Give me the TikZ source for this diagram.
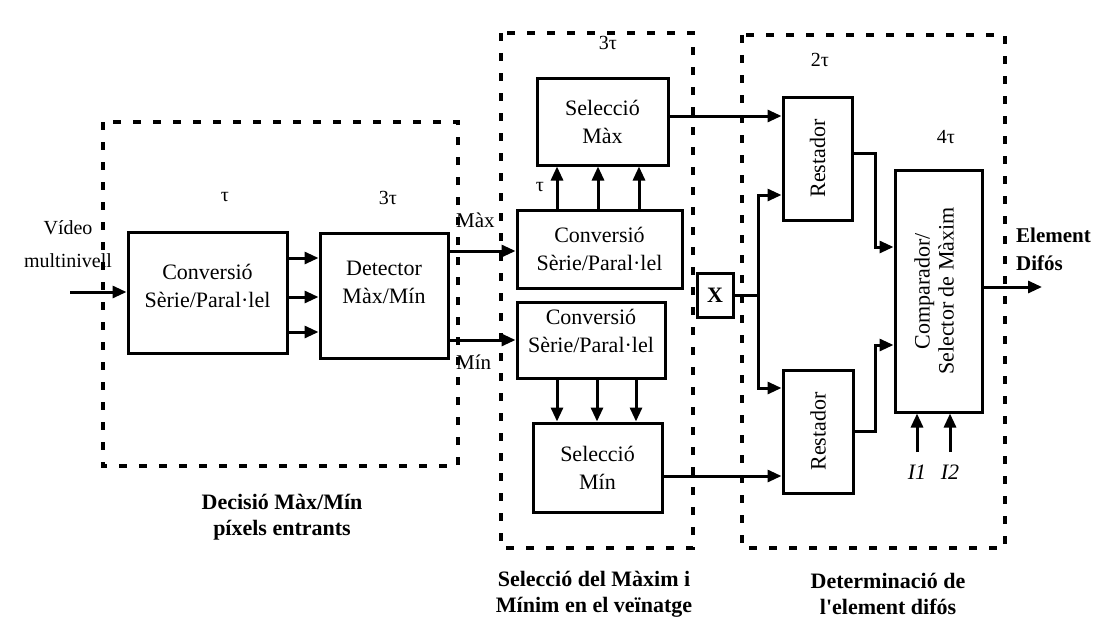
\documentclass[tikz,border=0pt]{standalone}
\usepackage{fontspec}
\setmainfont{Liberation Serif}
\usetikzlibrary{arrows.meta}
% invisible depth below the last line, lifting a node's text a little
\newcommand\liftText[1]{\rule[-#1]{0pt}{0pt}}
\begin{document}
\begin{tikzpicture}[x=1pt,y=-1pt,
  blk/.style={draw, line width=3pt, inner sep=0pt, align=center, font=\fontsize{22}{28}\selectfont},
  grp/.style={line width=4pt, dash pattern=on 8pt off 12pt},
  wire/.style={line width=3pt},
  arr/.style={wire, -{Triangle[length=14pt,width=12pt]}},
  lbl/.style={inner sep=0pt, font=\fontsize{22}{26}\selectfont},
  capt/.style={inner sep=0pt, align=center, font=\fontsize{22}{26}\selectfont\bfseries},
  tau/.style={inner sep=0pt, font=\fontsize{20}{24}\selectfont}]
\useasboundingbox (0,0) rectangle (1099,626);

% dashed group frames
\draw[grp] (103,122) rectangle (458,466);
\draw[grp] (501,33) rectangle (693,548);
\draw[grp] (742,35) rectangle (1005,548);

% blocks
\node[blk, minimum width=159pt, minimum height=121pt] (conv1) at (207.5,292.5) {Conversió\\Sèrie/Paral·lel\liftText{14pt}};
\node[blk, minimum width=128pt, minimum height=125pt] (det) at (384,295.5) {Detector\\Màx/Mín\liftText{26pt}};
\node[blk, minimum width=165pt, minimum height=78pt] (convA) at (599.5,249) {Conversió\\Sèrie/Paral·lel};
\node[blk, minimum width=148pt, minimum height=76pt] (convB) at (591,340) {Conversió\\Sèrie/Paral·lel\liftText{18pt}};
\node[blk, minimum width=131pt, minimum height=87pt] (selMax) at (602.5,121.5) {Selecció\\Màx};
\node[blk, minimum width=129pt, minimum height=89pt] (selMin) at (597.5,467.5) {Selecció\\Mín};
\node[blk, minimum width=36pt, minimum height=44pt, font=\fontsize{22}{26}\selectfont\bfseries] (X) at (715,295) {X};
\node[blk, minimum width=69pt, minimum height=123pt] (rest1) at (817.5,158.5) {};
\node[lbl, rotate=90] at (rest1.center) {Restador};
\node[blk, minimum width=70pt, minimum height=123pt] (rest2) at (818,431.5) {};
\node[lbl, rotate=90] at (rest2.center) {Restador};
\node[blk, minimum width=87pt, minimum height=242pt] (comp) at (938.5,291) {};
\node[lbl, rotate=90, align=center, font=\fontsize{22}{24}\selectfont] at (934,291) {Comparador/\\Selector de Màxim};

% delay labels
\node[tau] at (225,197) {τ};
\node[tau] at (388,198) {3τ};
\node[tau] at (540,187) {τ};
\node[tau] at (608,43) {3τ};
\node[tau] at (820,60) {2τ};
\node[tau] at (946,137) {4τ};

% input
\coordinate (vin) at (70,292);
\node[lbl, align=center, font=\fontsize{20}{33}\selectfont] (vlab) at (68,244) {Vídeo\\multinivell};
\draw[arr] (vin) -- (vin -| conv1.west);

% serial/parallel to detector
\foreach \yy in {258,297,332}
  \draw[arr] (conv1.east |- 0,\yy) -- (det.west |- 0,\yy);

% detector outputs
\draw[arr] (det.east |- 0,251) -- (convA.west |- 0,251);
\draw[arr] (det.east |- 0,340) -- (convB.west |- 0,340);
\node[lbl, anchor=west, font=\fontsize{21}{25}\selectfont] (lmax) at (456,220) {Màx};
\node[lbl, anchor=west, font=\fontsize{21}{25}\selectfont] (lmin) at (456,362) {Mín};

% parallel words to selectors
\foreach \xx in {557,598,639}
  \draw[arr] (convA.north -| \xx,0) -- (selMax.south -| \xx,0);
\foreach \xx in {557,597,636}
  \draw[arr] (convB.south -| \xx,0) -- (selMin.north -| \xx,0);

% selectors to subtractors
\draw[arr] (selMax.east |- 0,116) -- (rest1.west |- 0,116);
\draw[arr] (selMin.east |- 0,476) -- (rest2.west |- 0,476);

% X fan-out
\coordinate (jx) at (758,295);
\draw[wire] (X.east) -- (jx);
\draw[arr] (jx) |- (rest1.west |- 0,195);
\draw[arr] (jx) |- (rest2.west |- 0,388);

% subtractors to comparator
\coordinate (k1) at (875,153);
\coordinate (k2) at (875,431);
\draw[arr] (rest1.east |- k1) -- (k1) |- (comp.west |- 0,247);
\draw[arr] (rest2.east |- k2) -- (k2) |- (comp.west |- 0,345);

% thresholds
\coordinate (i1) at (917,452);
\coordinate (i2) at (950,452);
\draw[arr] (i1) -- (i1 |- comp.south);
\draw[arr] (i2) -- (i2 |- comp.south);
\node[lbl, anchor=north] at (917,465) {\textit{I1}};
\node[lbl, anchor=north] at (950,465) {\textit{I2}};

% output
\coordinate (vout) at (1042,287);
\draw[arr] (comp.east |- vout) -- (vout);
\node[capt, align=left, anchor=west, font=\fontsize{21}{28}\selectfont\bfseries] at (1016,249) {Element\\Difós};

% group captions
\node[capt] at (282,517) {Decisió Màx/Mín\\píxels entrants};
\node[capt] at (594,594) {Selecció del Màxim i\\Mínim en el veïnatge};
\node[capt] at (888,594) {Determinació de\\l\textquotesingle element difós};
\end{tikzpicture}
\end{document}
